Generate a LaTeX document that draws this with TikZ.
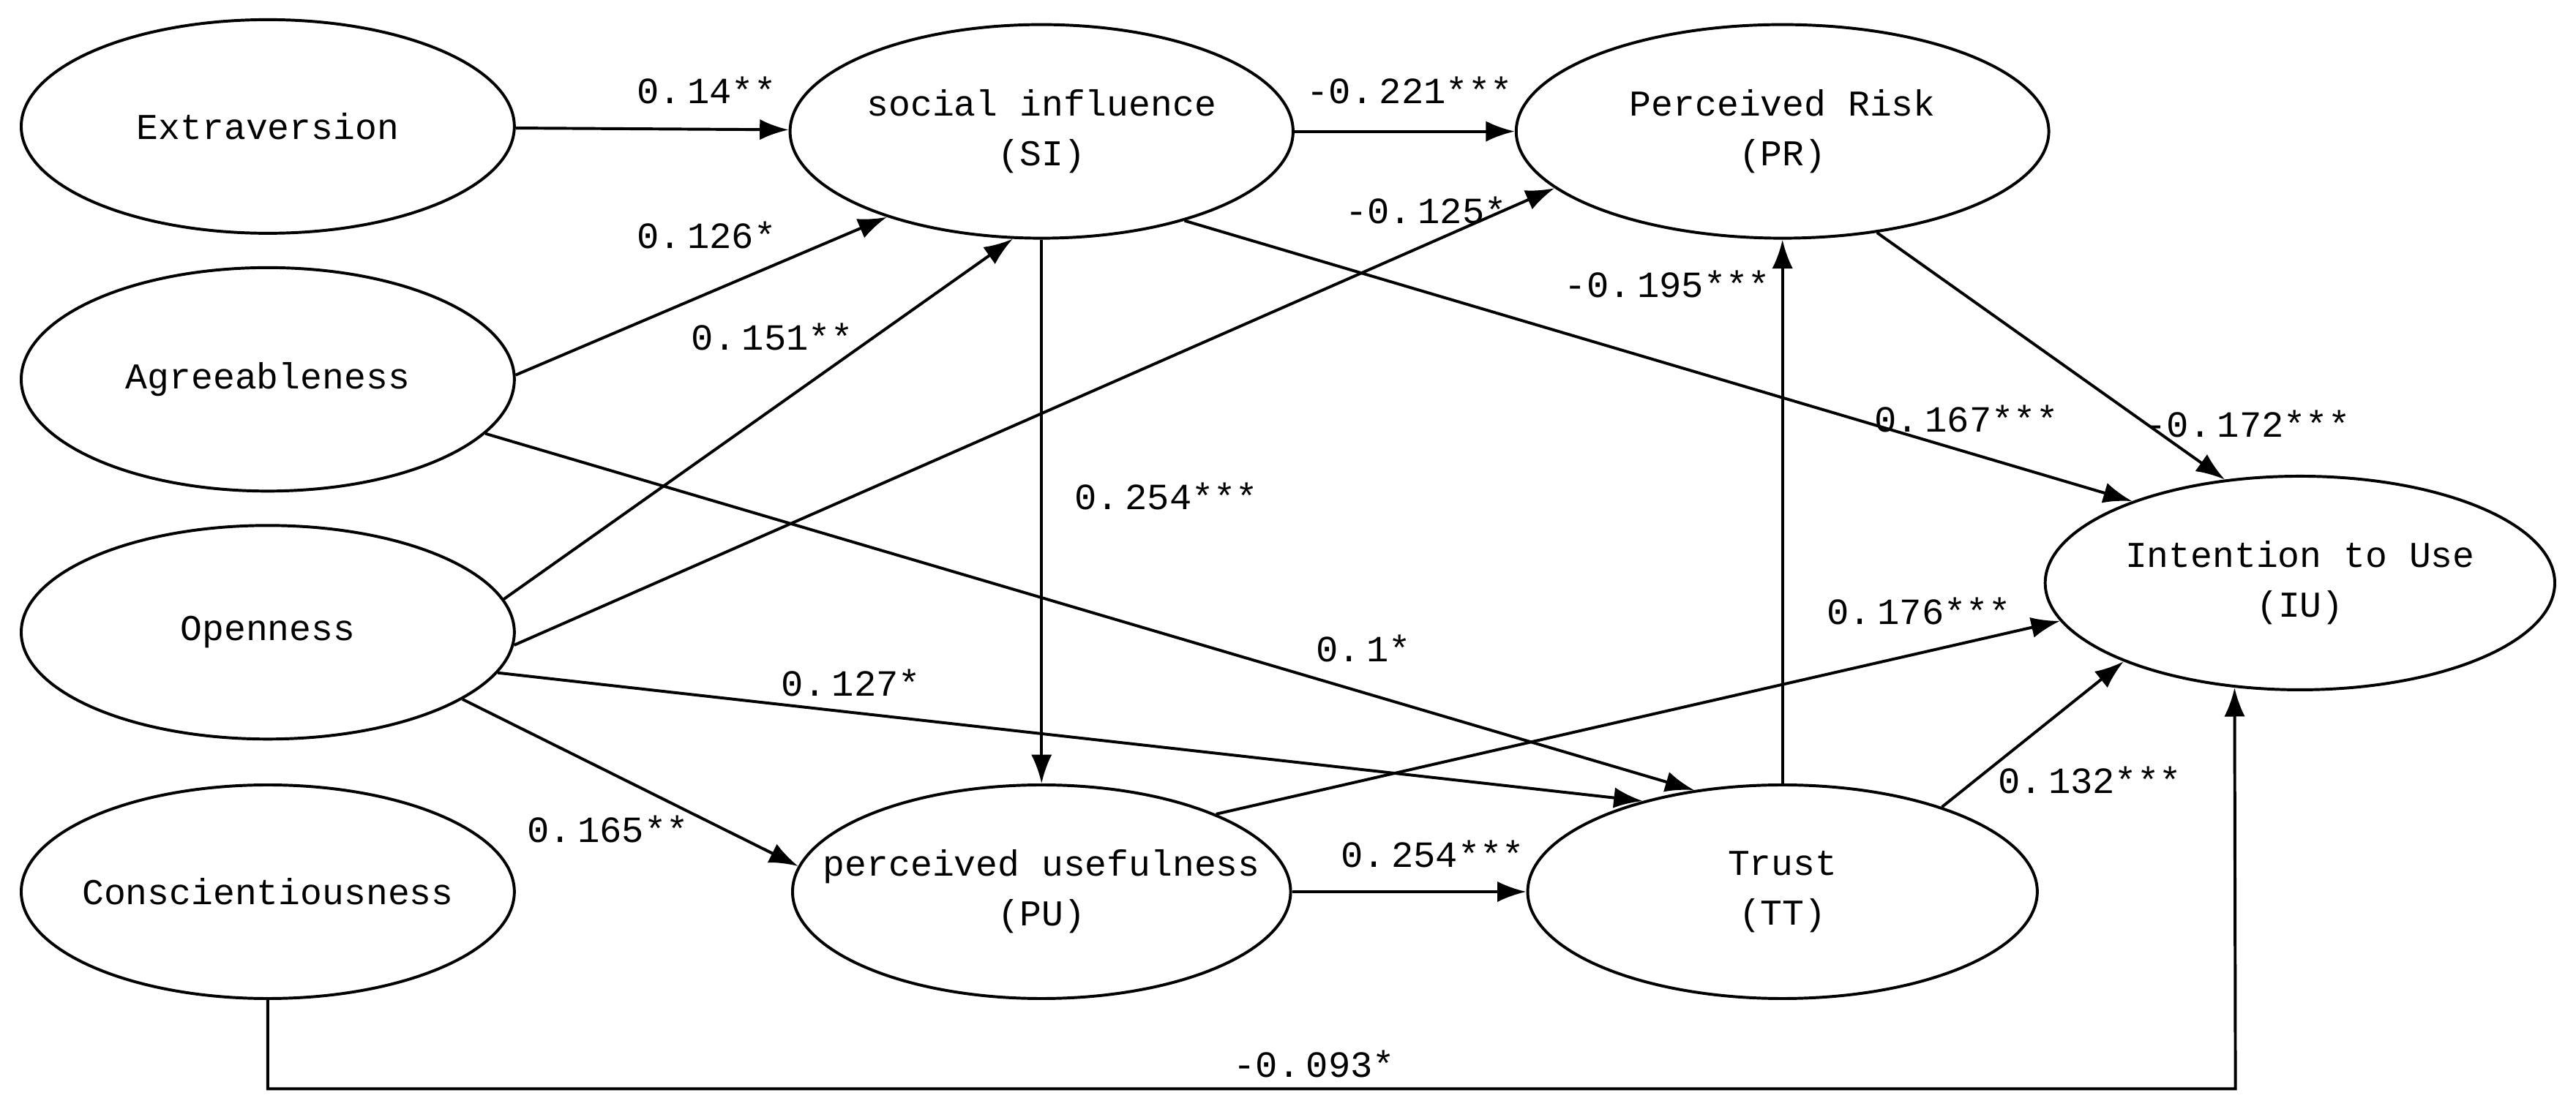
\documentclass[tikz,border=0pt]{standalone}
\usepackage{fontspec}
\setmainfont{Liberation Mono}
\usetikzlibrary{shapes.geometric,arrows.meta}
\begin{document}
\begin{tikzpicture}[x=0.01cm,y=-0.01cm,
  el/.style={ellipse,draw,line width=0.5pt,inner sep=-8pt,align=center,font=\fontsize{6.3pt}{8.6pt}\selectfont},
  ar/.style={-{Latex[length=5pt,width=3.6pt]},line width=0.5pt},
  lb/.style={font=\fontsize{6.4pt}{8pt}\selectfont}]
\useasboundingbox (0,0) rectangle (1568,675);
\node[el,minimum width=3cm,minimum height=1.3cm] (E) at (163,77) {Extraversion};
\node[el,minimum width=3cm,minimum height=1.36cm] (A) at (163,231) {Agreeableness};
\node[el,minimum width=3cm,minimum height=1.3cm] (O) at (163,385) {Openness};
\node[el,minimum width=3cm,minimum height=1.3cm] (C) at (163,543) {Conscientiousness};
\node[el,minimum width=3.06cm,minimum height=1.3cm] (SI) at (634,80) {social influence\\(SI)};
\node[el,minimum width=3.24cm,minimum height=1.3cm] (PR) at (1085,80) {Perceived Risk\\(PR)};
\node[el,minimum width=3.1cm,minimum height=1.3cm] (IU) at (1400,355) {Intention to Use\\(IU)};
\node[el,minimum width=3.03cm,minimum height=1.3cm] (PU) at (634,543) {perceived usefulness\\(PU)};
\node[el,minimum width=3.1cm,minimum height=1.3cm] (TT) at (1085,543) {Trust\\(TT)};
\coordinate (k) at (1360.7,663);
\draw[ar] (E) -- (SI);
\draw[ar] (A.1) -- (SI.209);
\draw[ar] (O.8) -- (SI.255);
\draw[ar] (O.357) -- (PR.194);
\draw[ar] (A.-14) -- (TT.131);
\draw[ar] (O.-10) -- (TT.147);
\draw[ar] (O.-19) -- (PU.174);
\draw[ar] (SI.south) -- (PU.north);
\draw[ar] (SI) -- (PR);
\draw[ar] (SI.-32) -- (IU.154);
\draw[ar] (PU.24) -- (IU.189);
\draw[ar] (PU) -- (TT);
\draw[ar] (TT.north) -- (PR.south);
\draw[ar] (TT.28) -- (IU.204);
\draw[ar] (PR.-47) -- (IU.126);
\draw[ar] (C.south) |- (k) -- (IU.238);
\node[lb] at (430,55) {0.\,14**};
\node[lb] at (858,55) {-0.\,221***};
\node[lb] at (430,143) {0.\,126*};
\node[lb] at (868,128) {-0.\,125*};
\node[lb] at (1015,173) {-0.\,195***};
\node[lb] at (470,205) {0.\,151**};
\node[lb] at (1197,255) {0.\,167***};
\node[lb] at (1368,258) {-0.\,172***};
\node[lb] at (710,302) {0.\,254***};
\node[lb] at (1168,372) {0.\,176***};
\node[lb] at (830,395) {0.\,1*};
\node[lb] at (518,416) {0.\,127*};
\node[lb] at (1272,475) {0.\,132***};
\node[lb] at (370,505) {0.\,165**};
\node[lb] at (872,520) {0.\,254***};
\node[lb] at (800,648) {-0.\,093*};
\end{tikzpicture}
\end{document}
